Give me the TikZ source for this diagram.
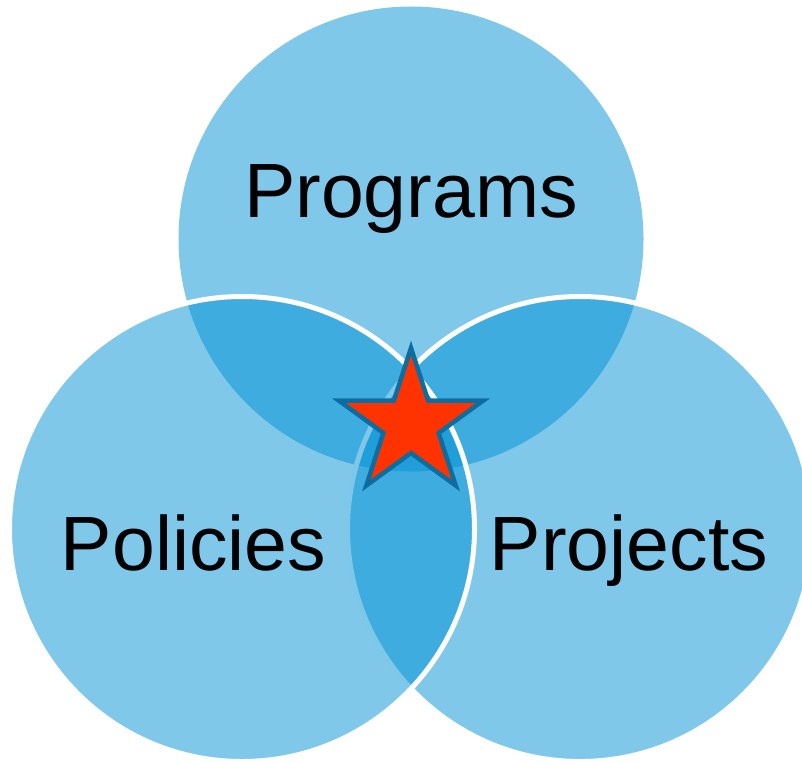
\documentclass[tikz,border=0pt]{standalone}
\usepackage{fontspec}
\setmainfont{Liberation Sans}
\usetikzlibrary{shapes.geometric}
\definecolor{vennblue}{RGB}{0,145,213}
\definecolor{starred}{HTML}{FF3300}
\definecolor{staredge}{RGB}{12,110,160}

\begin{document}
\begin{tikzpicture}[x=1bp, y=-1bp,
    venn/.style={circle, inner sep=0pt, minimum size=465bp, fill=vennblue,
                 fill opacity=0.5, draw=white, line width=5bp},
    vennlabel/.style={anchor=base, inner sep=0pt, font=\fontsize{77bp}{90bp}\selectfont}]
      \useasboundingbox (0,0) rectangle (802,762);

      % Draw the three circles
      \node[venn, draw=none] (programs) at (411,239) {};
      \node[venn] (projects) at (580,529) {};
      \node[venn] (policies) at (242,529) {};

      % Add the labels
      \node[vennlabel] (programsText) at (411,217) {Programs};
      \node[vennlabel] (policiesText) at (193.5,570) {Policies};
      \node[vennlabel] (projectsText) at (629,570) {Projects};

      % Mark the common centre with a star
      \node[star, star points=5, star point ratio=2.618, minimum size=152bp,
            inner sep=0pt, fill=starred, draw=staredge, line width=4.5bp] (goal) at (411,424) {};
    \end{tikzpicture}
\end{document}
